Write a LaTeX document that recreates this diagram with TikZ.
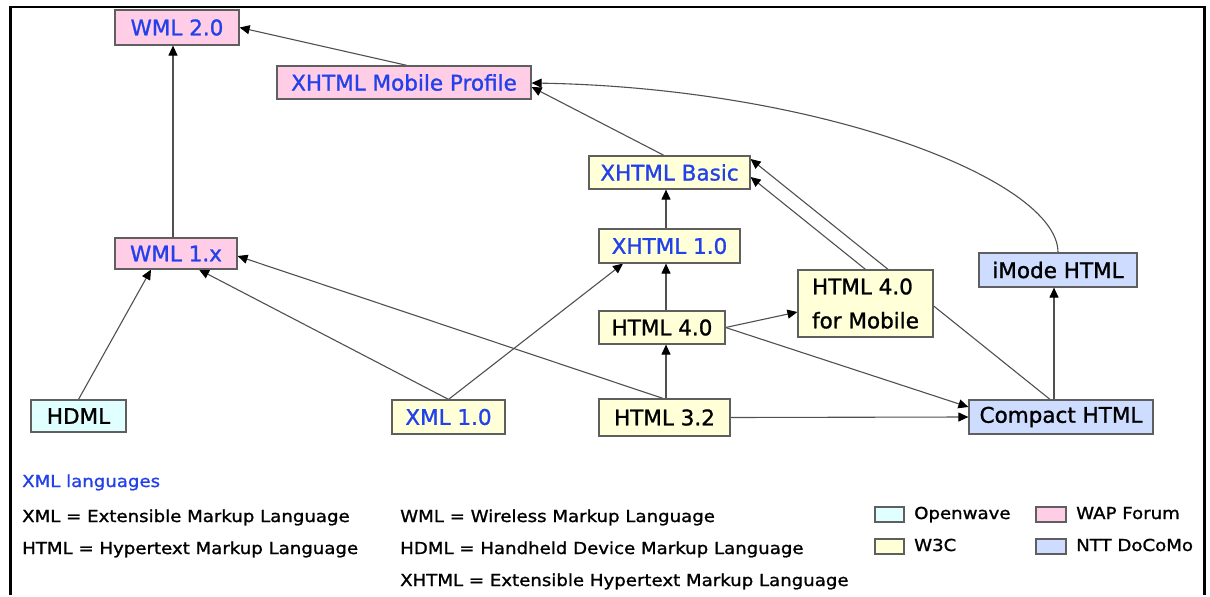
\documentclass[tikz,border=0pt]{standalone}
\usepackage{fontspec}
\setmainfont{DejaVu Sans}[FakeBold=1.2]
\newfontfamily\legfont[FakeStretch=1.1,FakeBold=1.2]{DejaVu Sans}
\usetikzlibrary{arrows.meta}
\pgfdeclarelayer{back}
\pgfdeclarelayer{edges}
\pgfsetlayers{back,edges,main}
\definecolor{pinkc}{RGB}{255,206,230}
\definecolor{yellc}{RGB}{255,255,216}
\definecolor{cyanc}{RGB}{224,255,255}
\definecolor{bluec}{RGB}{206,221,255}
\definecolor{txtblue}{RGB}{35,65,235}
\definecolor{boxborder}{RGB}{95,95,95}
\definecolor{edgecol}{RGB}{80,80,80}
\newcommand{\nodefont}{\fontsize{21.5}{34}\selectfont}
\newcommand{\legendfont}{\legfont\fontsize{16.5}{20}\selectfont}
\tikzset{
  box/.style={draw=boxborder, line width=1.2pt, inner sep=0pt, font=\nodefont, text=black},
  bluetxt/.style={text=txtblue},
  arr/.style={draw=edgecol, line width=1.1pt, -{Triangle[length=10pt,width=9pt,color=black]}},
  legtext/.style={anchor=base west, inner sep=0pt, font=\legendfont, text=black},
  swatch/.style={draw=boxborder, line width=1.2pt}
}
\begin{document}
\begin{tikzpicture}[x=1pt,y=-1pt]
\begin{pgfonlayer}{back}
\fill[white] (0,0) rectangle (1210,595);
\draw[black, line width=1.6pt] (9,7) -- (1206,7);
\draw[black, line width=3pt] (10.5,7) -- (10.5,595);
\draw[black, line width=3pt] (1204.5,7) -- (1204.5,595);
\end{pgfonlayer}
\useasboundingbox (0,0) rectangle (1210,595);

% nodes
\node[box, bluetxt, fill=pinkc, minimum width=124, minimum height=35] (wml2) at (177,27.5) {WML 2.0};
\node[box, bluetxt, fill=pinkc, minimum width=254, minimum height=33] (xmp) at (404,82.5) {XHTML Mobile Profile};
\node[box, bluetxt, fill=yellc, minimum width=161, minimum height=33] (xb) at (669.5,172.5) {XHTML Basic};
\node[box, bluetxt, fill=yellc, minimum width=141, minimum height=34] (x10) at (669.5,246) {XHTML 1.0};
\node[box, bluetxt, fill=pinkc, minimum width=122, minimum height=31] (wml1) at (176,253.5) {WML 1.x};
\node[box, fill=yellc, minimum width=135, minimum height=67, align=left] (h4m) at (865.5,303.5) {HTML 4.0\\for Mobile};
\node[box, fill=bluec, minimum width=158, minimum height=34] (imode) at (1058,270) {iMode HTML};
\node[box, fill=yellc, minimum width=126, minimum height=33] (h40) at (662,327.5) {HTML 4.0};
\node[box, fill=cyanc, minimum width=95, minimum height=32] (hdml) at (78.5,416) {HDML};
\node[box, bluetxt, fill=yellc, minimum width=113, minimum height=34] (xml) at (448.5,417) {XML 1.0};
\node[box, fill=yellc, minimum width=131, minimum height=37] (h32) at (664.5,417.5) {HTML 3.2};
\node[box, fill=bluec, minimum width=184, minimum height=34] (chtml) at (1061,417) {Compact HTML};

% connectors
\begin{pgfonlayer}{edges}
\draw[arr] ([xshift=-3pt]wml1.north) -- ([xshift=-4pt]wml2.south);
\draw[arr] ([xshift=3pt]xmp.north) -- (wml2.east);
\draw[arr] ([xshift=-5.5pt]xb.north) -- ([yshift=-4.5pt]xmp.east);
\draw[arr] (imode.north) .. controls (1058,180) and (820,88) .. ([yshift=-0.5pt]xmp.east);
\draw[arr] ([xshift=-3.5pt]x10.north) -- ([xshift=-3.5pt]xb.south);
\draw[arr] ([xshift=4pt]h40.north) -- ([xshift=-3.5pt]x10.south);
\draw[arr] ([xshift=1.5pt]h32.north) -- ([xshift=4pt]h40.south);
\draw[arr] (h40.east) -- ([yshift=-8.5pt]h4m.west);
\draw[arr] (h40.east) -- ([yshift=10pt]chtml.west);
\draw[arr] (h32.east) -- (chtml.west);
\draw[arr] ([xshift=-7pt]chtml.north) -- ([xshift=-4pt]imode.south);
\draw[arr] (h4m.north) -- ([yshift=-4.5pt]xb.east);
\draw[arr] ([xshift=-11pt]chtml.north) -- ([yshift=13.5pt]xb.east);
\draw[arr] (xml.north) -- ([xshift=-46.5pt]x10.south);
\draw[arr] (xml.north) -- ([xshift=23pt]wml1.south);
\draw[arr] ([xshift=-1.5pt]h32.north) -- ([yshift=-2.5pt]wml1.east);
\draw[arr] (hdml.north) -- ([xshift=-25pt]wml1.south);
\end{pgfonlayer}

% legend
\node[legtext, text=txtblue] (lxl) at (22,487) {XML languages};
\node[legtext] (lxml) at (22,522) {XML = Extensible Markup Language};
\node[legtext] (lhtml) at (22,554) {HTML = Hypertext Markup Language};
\node[legtext] (lwml) at (400,522) {WML = Wireless Markup Language};
\node[legtext] (lhdml) at (400,554) {HDML = Handheld Device Markup Language};
\node[legtext] (lxhtml) at (400,586) {XHTML = Extensible Hypertext Markup Language};

\node[swatch, fill=cyanc, minimum width=29, minimum height=15, inner sep=0pt] (sow) at (889.5,514.5) {};
\node[swatch, fill=yellc, minimum width=29, minimum height=15, inner sep=0pt] (sw3) at (889.5,546.5) {};
\node[swatch, fill=pinkc, minimum width=30, minimum height=15, inner sep=0pt] (swap) at (1051,514.5) {};
\node[swatch, fill=bluec, minimum width=30, minimum height=15, inner sep=0pt] (sntt) at (1051,546.5) {};
\node[legtext] (tow) at (914,519) {Openwave};
\node[legtext] (tw3) at (914,551) {W3C};
\node[legtext] (twap) at (1076,519) {WAP Forum};
\node[legtext] (tntt) at (1076,551) {NTT DoCoMo};
\end{tikzpicture}
\end{document}
